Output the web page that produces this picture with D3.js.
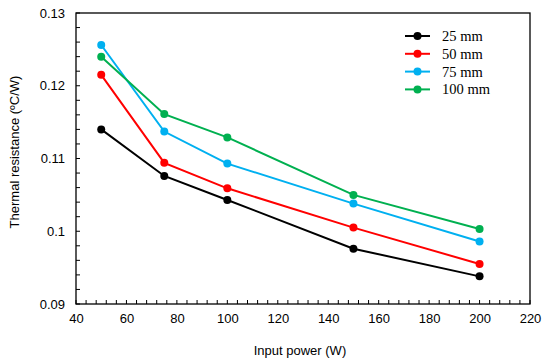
<!DOCTYPE html>
<html>
<head>
<meta charset="utf-8">
<script src="https://cdn.jsdelivr.net/npm/d3@7"></script>
<style>
  body { margin: 0; background: #fff; }
  svg { display: block; }
</style>
</head>
<body>
<div id="chart"></div>
<script>
// data
var power = [50, 75, 100, 150, 200];
var seriesNames = ['25 mm', '50 mm', '75 mm', '100 mm'];
var seriesColors = ['#000000', '#ff0000', '#00b0f0', '#00b050'];
var r25 = [0.1140, 0.1076, 0.1043, 0.0976, 0.0938];
var r50 = [0.1215, 0.1094, 0.1059, 0.1005, 0.0955];
var r75 = [0.1256, 0.1137, 0.1093, 0.1038, 0.0986];
var r100 = [0.1240, 0.1161, 0.1129, 0.1050, 0.1003];
var xTicks = [40, 60, 80, 100, 120, 140, 160, 180, 200, 220];
var yTicks = [0.09, 0.1, 0.11, 0.12, 0.13];

var width = 550, height = 364;
var margin = {left: 76, right: 20, top: 13, bottom: 60};

var svg = d3.select('#chart').append('svg').attr('width', width).attr('height', height);

var x = d3.scaleLinear().domain([40, 220]).range([margin.left, width - margin.right]);
var y = d3.scaleLinear().domain([0.09, 0.13]).range([height - margin.bottom, margin.top]);

// frame
svg.append('rect')
    .attr('x', x(40)).attr('y', y(0.13))
    .attr('width', x(220) - x(40)).attr('height', y(0.09) - y(0.13))
    .attr('fill', 'none').attr('stroke', '#000').attr('stroke-width', 1.3);

// minor ticks (inward)
var xMinor = d3.range(40, 220.1, 4);
var yMinor = d3.range(0.09, 0.1301, 0.002);
svg.append('g').selectAll('line').data(xMinor).enter().append('line')
    .attr('x1', function(d){ return x(d); }).attr('x2', function(d){ return x(d); })
    .attr('y1', y(0.09)).attr('y2', y(0.09) - 4)
    .attr('stroke', '#000').attr('stroke-width', 1);
svg.append('g').selectAll('line').data(yMinor).enter().append('line')
    .attr('x1', x(40)).attr('x2', x(40) + 4)
    .attr('y1', function(d){ return y(d); }).attr('y2', function(d){ return y(d); })
    .attr('stroke', '#000').attr('stroke-width', 1);

// axes labels via d3 axes
var xAxis = svg.append('g').attr('transform', 'translate(0,' + y(0.09) + ')')
    .call(d3.axisBottom(x).tickValues(xTicks).tickSize(0).tickPadding(10).tickFormat(d3.format('d')));
var yAxis = svg.append('g').attr('transform', 'translate(' + x(40) + ',0)')
    .call(d3.axisLeft(y).tickValues(yTicks).tickSize(0).tickPadding(11).tickFormat(function(d){ return String(+d.toFixed(2)); }));
[xAxis, yAxis].forEach(function(g){
    g.select('.domain').remove();
    g.selectAll('text').attr('font-family', 'Liberation Sans, Arial, sans-serif')
        .attr('font-size', 13).attr('fill', '#000');
});

svg.append('text')
    .attr('x', 300).attr('y', 355)
    .attr('text-anchor', 'middle')
    .attr('font-family', 'Liberation Sans, Arial, sans-serif').attr('font-size', 13)
    .text('Input power (W)');
svg.append('text')
    .attr('transform', 'translate(19,152) rotate(-90)')
    .attr('text-anchor', 'middle')
    .attr('font-family', 'Liberation Sans, Arial, sans-serif').attr('font-size', 13)
    .text('Thermal resistance (ºC/W)');

// series
var allSeries = [r25, r50, r75, r100];
var line = d3.line().x(function(d, i){ return x(power[i]); }).y(function(d){ return y(d); });

allSeries.forEach(function(vals, s){
    var g = svg.append('g');
    g.append('path').datum(vals)
        .attr('d', line).attr('fill', 'none')
        .attr('stroke', seriesColors[s]).attr('stroke-width', 2);
    g.selectAll('circle').data(vals).enter().append('circle')
        .attr('cx', function(d, i){ return x(power[i]); })
        .attr('cy', function(d){ return y(d); })
        .attr('r', 4).attr('fill', seriesColors[s]);
});

// legend
var legend = svg.append('g').attr('transform', 'translate(405,36)');
seriesNames.forEach(function(name, i){
    var row = legend.append('g').attr('transform', 'translate(0,' + (i * 17.8) + ')');
    row.append('line').attr('x1', 0).attr('x2', 25).attr('y1', 0).attr('y2', 0)
        .attr('stroke', seriesColors[i]).attr('stroke-width', 2);
    row.append('circle').attr('cx', 12.5).attr('cy', 0).attr('r', 4).attr('fill', seriesColors[i]);
    row.append('text').attr('x', 37).attr('y', 5)
        .attr('font-family', 'Liberation Serif, Times New Roman, serif').attr('font-size', 14.5)
        .text(name);
});
</script>
</body>
</html>
